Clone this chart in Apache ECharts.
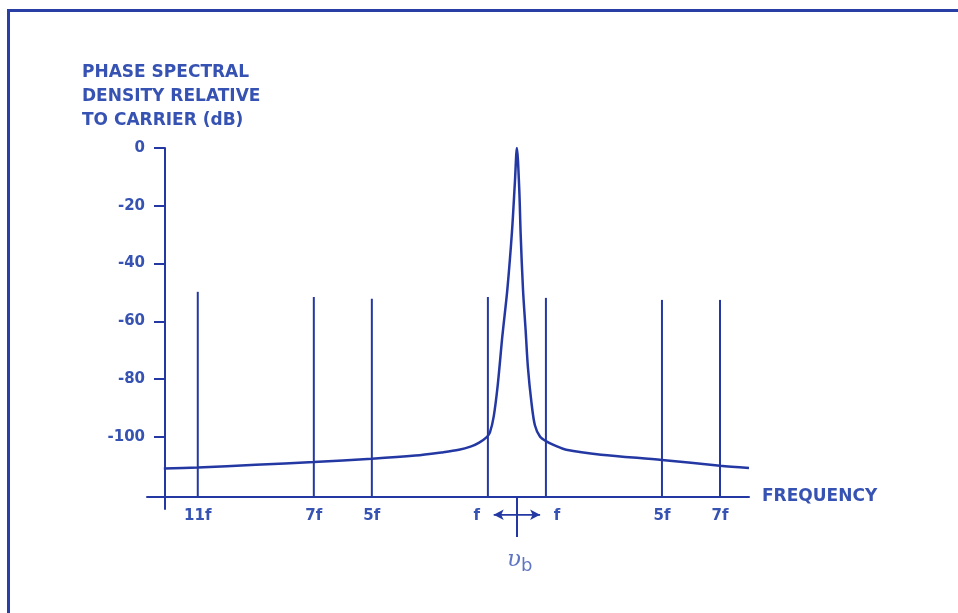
<!DOCTYPE html>
<html>
<head>
<meta charset="utf-8">
<title>Phase spectral density</title>
<script src="https://cdn.jsdelivr.net/npm/echarts@6/dist/echarts.min.js"></script>
<style>
  html, body { margin: 0; padding: 0; background: #fff; }
  .frame {
    position: absolute;
    left: 7px;
    top: 9px;
    width: 960px;
    height: 620px;
    border-left: 3px solid #2a3fa5;
    border-top: 3px solid #2a3fa5;
  }
  #chart {
    position: absolute;
    left: 0;
    top: 0;
    width: 958px;
    height: 613px;
  }
</style>
</head>
<body>
<div class="frame"></div>
<div id="chart"></div>
<script>
// x is offset from the carrier in units of f, y is dB relative to carrier
const spectrum = [
  [-12.17, -111], [-11, -110.6], [-9, -109.7], [-7, -108.7], [-5, -107.6],
  [-3.5, -106.5], [-2.6, -105.4], [-2, -104.5], [-1.6, -103.4], [-1.3, -102],
  [-1.03, -100], [-0.93, -98.5], [-0.8, -93], [-0.66, -82], [-0.5, -65],
  [-0.33, -49], [-0.17, -29], [-0.07, -12], [0, 0], [0.08, -14],
  [0.13, -30], [0.21, -49], [0.3, -63], [0.38, -76], [0.5, -88],
  [0.62, -96], [0.8, -100], [1.0, -101.5], [1.3, -103], [1.7, -104.5],
  [2.9, -106.2], [5, -108], [7, -110], [8, -110.8]
]

const harmonicPos = [-11, -7, -5, -1, 1, 5, 7]
const harmonicTop = [-49.8, -51.6, -52.2, -51.6, -51.9, -52.6, -52.6]
const baseLevel = -120.8

const yTicks = [0, -20, -40, -60, -80, -100]
const xLabelPos = [-11, -7, -5, -1.38, 1.38, 5, 7]
const xLabelText = ['11f', '7f', '5f', 'f', 'f', '5f', '7f']

const arrowLevel = -127
const arrowEnds = [-0.8, 0.8]
const carrierMark = [0.1, -142.6]

const lineColor = '#2438a3'
const textColor = '#3652b2'
const font = 'DejaVu Sans, sans-serif'

function harmonicSeries() {
  return harmonicPos.map((x, i) => ({
    type: 'line',
    data: [[x, baseLevel], [x, harmonicTop[i]]],
    symbol: 'none',
    lineStyle: { color: lineColor, width: 2 },
    silent: true,
    z: 2
  }))
}

function initChart() {
  const chart = echarts.init(document.getElementById('chart'))

  chart.setOption({
    animation: false,
    title: {
      text: 'PHASE SPECTRAL\nDENSITY RELATIVE\nTO CARRIER (dB)',
      left: 82,
      top: 61,
      padding: 0,
      textStyle: {
        color: textColor,
        fontFamily: font,
        fontSize: 17,
        fontWeight: 'bold',
        lineHeight: 24
      }
    },
    grid: { left: 147, top: 148, width: 602, height: 361 },
    xAxis: {
      type: 'value',
      min: -12.75,
      max: 8,
      offset: -12,
      name: 'FREQUENCY',
      nameLocation: 'end',
      nameGap: 13,
      nameTextStyle: { color: textColor, fontFamily: font, fontSize: 17, fontWeight: 'bold' },
      axisLine: { show: true, onZero: false, lineStyle: { color: lineColor, width: 2 } },
      axisTick: {
        show: true,
        customValues: [0],
        length: 40,
        lineStyle: { color: lineColor, width: 2 }
      },
      axisLabel: {
        customValues: xLabelPos,
        margin: 12,
        color: textColor,
        fontFamily: font,
        fontSize: 15,
        fontWeight: 'bold',
        formatter: (v) => {
          const i = xLabelPos.findIndex((p) => Math.abs(p - v) < 1e-6)
          return i >= 0 ? xLabelText[i] : ''
        }
      },
      splitLine: { show: false }
    },
    yAxis: {
      type: 'value',
      min: -125,
      max: 0,
      offset: -18,
      axisLine: { show: true, onZero: false, lineStyle: { color: lineColor, width: 2 } },
      axisTick: {
        show: true,
        customValues: yTicks,
        length: 11,
        lineStyle: { color: lineColor, width: 2 }
      },
      axisLabel: {
        customValues: yTicks,
        margin: 20,
        color: textColor,
        fontFamily: font,
        fontSize: 15,
        fontWeight: 'bold'
      },
      splitLine: { show: false }
    },
    series: [
      {
        type: 'line',
        data: spectrum,
        smooth: 0.3,
        symbol: 'none',
        lineStyle: { color: lineColor, width: 2.5 },
        z: 3
      },
      ...harmonicSeries(),
      {
        type: 'line',
        clip: false,
        data: [
          { value: [arrowEnds[0], arrowLevel], symbol: 'arrow', symbolRotate: 90 },
          { value: [arrowEnds[1], arrowLevel], symbol: 'arrow', symbolRotate: -90 }
        ],
        showSymbol: true,
        symbolSize: [8, 10],
        itemStyle: { color: lineColor },
        lineStyle: { color: lineColor, width: 1.8 },
        silent: true
      },
      {
        type: 'scatter',
        clip: false,
        data: [carrierMark],
        symbolSize: 0,
        silent: true,
        label: {
          show: true,
          position: 'inside',
          formatter: '{nu|υ}{sub|b}',
          rich: {
            nu: { color: textColor, fontFamily: 'DejaVu Serif, serif', fontStyle: 'italic', fontSize: 23 },
            sub: { color: textColor, fontFamily: font, fontSize: 18, padding: [12, 0, 0, 0] }
          }
        }
      }
    ]
  })

  window.addEventListener('resize', () => chart.resize())
}

initChart()
</script>
</body>
</html>
